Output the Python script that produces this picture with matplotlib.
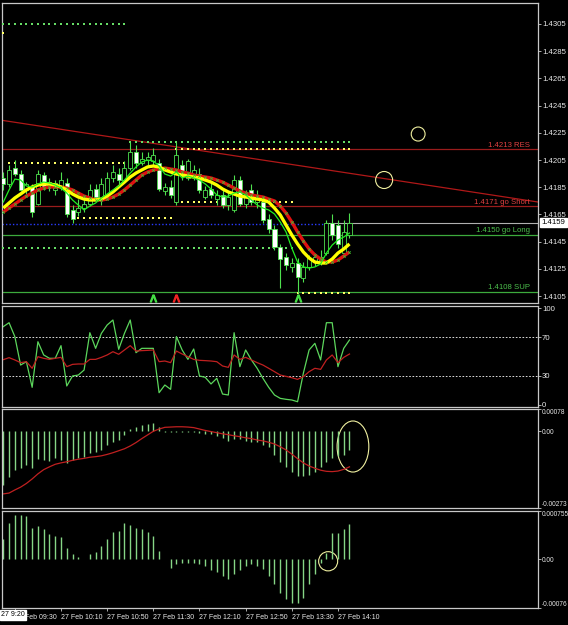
import matplotlib
matplotlib.use('Agg')
import matplotlib.pyplot as plt
from matplotlib.patches import Ellipse
import numpy as np

# 5 minute bars, 27 Feb 09:20 .. 14:20
opens = [1.4192, 1.4187, 1.4199, 1.4195, 1.4183, 1.4185, 1.4173, 1.4194, 1.4185, 1.4183,
         1.4186, 1.4188, 1.4168, 1.4167, 1.4170, 1.4173, 1.4184, 1.4176, 1.4179, 1.4192,
         1.4195, 1.4190, 1.4199, 1.4211, 1.4203, 1.4205, 1.4204, 1.4203, 1.4182, 1.4185,
         1.4174, 1.4201, 1.4192, 1.4194, 1.4195, 1.4178, 1.4184, 1.4176, 1.4179, 1.4172,
         1.4168, 1.4190, 1.4173, 1.4183, 1.4174, 1.4174, 1.4162, 1.4154, 1.4141, 1.4134,
         1.4126, 1.4129, 1.4118, 1.4126, 1.4130, 1.4130, 1.4137, 1.4159, 1.4157, 1.4137,
         1.4150]
highs = [1.4196, 1.4201, 1.4205, 1.4198, 1.4189, 1.4187, 1.4198, 1.4196, 1.4192, 1.4190,
         1.4196, 1.4192, 1.4172, 1.4176, 1.4177, 1.4187, 1.4187, 1.4192, 1.4196, 1.4201,
         1.4199, 1.4204, 1.4218, 1.4216, 1.4211, 1.4211, 1.4214, 1.4206, 1.4188, 1.4190,
         1.4218, 1.4205, 1.4206, 1.4201, 1.4199, 1.4186, 1.4189, 1.4183, 1.4184, 1.4182,
         1.4194, 1.4193, 1.4183, 1.4187, 1.4183, 1.4177, 1.4165, 1.4157, 1.4143, 1.4137,
         1.4133, 1.4133, 1.4130, 1.4135, 1.4137, 1.4139, 1.4161, 1.4165, 1.4161, 1.4161,
         1.4166]
lows = [1.4183, 1.4185, 1.4193, 1.4182, 1.4179, 1.4163, 1.4172, 1.4183, 1.4182, 1.4179,
        1.4183, 1.4163, 1.4159, 1.4164, 1.4167, 1.4171, 1.4176, 1.4172, 1.4177, 1.4189,
        1.4187, 1.4188, 1.4198, 1.4199, 1.4201, 1.4201, 1.4201, 1.4182, 1.4179, 1.4177,
        1.4172, 1.4190, 1.4190, 1.4190, 1.4181, 1.4176, 1.4177, 1.4172, 1.4170, 1.4168,
        1.4167, 1.4171, 1.4170, 1.4172, 1.4170, 1.4159, 1.4151, 1.4139, 1.4111, 1.4124,
        1.4123, 1.4107, 1.4115, 1.4124, 1.4127, 1.4128, 1.4135, 1.4146, 1.4140, 1.4135,
        1.4148]
closes = [1.4187, 1.4198, 1.4195, 1.4183, 1.4187, 1.4167, 1.4195, 1.4185, 1.4189, 1.4188,
          1.4190, 1.4165, 1.4162, 1.4170, 1.4173, 1.4183, 1.4178, 1.4187, 1.4192, 1.4196,
          1.4190, 1.4199, 1.4211, 1.4203, 1.4206, 1.4207, 1.4209, 1.4184, 1.4185, 1.4179,
          1.4209, 1.4194, 1.4204, 1.4198, 1.4183, 1.4183, 1.4179, 1.4179, 1.4172, 1.4178,
          1.4190, 1.4173, 1.4179, 1.4174, 1.4179, 1.4161, 1.4154, 1.4141, 1.4132, 1.4128,
          1.4129, 1.4119, 1.4126, 1.4133, 1.4134, 1.4134, 1.4159, 1.4150, 1.4143, 1.4152,
          1.4159]

ma_yellow = [1.41697, 1.41734, 1.41771, 1.41800, 1.41830, 1.41852, 1.41866, 1.41874, 1.41874, 1.41866,
             1.41852, 1.41830, 1.41800, 1.41778, 1.41763, 1.41756, 1.41756, 1.41763, 1.41785, 1.41815,
             1.41852, 1.41888, 1.41925, 1.41954, 1.41977, 1.41999, 1.42006, 1.41999, 1.41977, 1.41962,
             1.41947, 1.41940, 1.41932, 1.41925, 1.41918, 1.41903, 1.41888, 1.41866, 1.41837, 1.41815,
             1.41800, 1.41785, 1.41778, 1.41771, 1.41763, 1.41756, 1.41741, 1.41697, 1.41646, 1.41572,
             1.41499, 1.41433, 1.41374, 1.41330, 1.41300, 1.41293, 1.41293, 1.41322, 1.41366, 1.41396,
             1.41433]
ma_red = [1.41668, 1.41697, 1.41727, 1.41756, 1.41785, 1.41807, 1.41830, 1.41844, 1.41852, 1.41852,
          1.41852, 1.41844, 1.41830, 1.41807, 1.41785, 1.41771, 1.41756, 1.41756, 1.41763, 1.41778,
          1.41800, 1.41830, 1.41866, 1.41903, 1.41940, 1.41962, 1.41977, 1.41984, 1.41991, 1.41984,
          1.41977, 1.41962, 1.41954, 1.41940, 1.41932, 1.41925, 1.41918, 1.41903, 1.41888, 1.41866,
          1.41844, 1.41822, 1.41807, 1.41793, 1.41785, 1.41778, 1.41763, 1.41749, 1.41712, 1.41660,
          1.41594, 1.41521, 1.41455, 1.41396, 1.41352, 1.41322, 1.41300, 1.41300, 1.41315, 1.41344,
          1.41374]
ma_green = [1.41741, 1.41830, 1.41910, 1.41903, 1.41859, 1.41852, 1.41874, 1.41888, 1.41881, 1.41866,
            1.41844, 1.41807, 1.41756, 1.41719, 1.41683, 1.41712, 1.41734, 1.41771, 1.41800, 1.41830,
            1.41859, 1.41903, 1.41954, 1.41999, 1.42035, 1.42050, 1.42043, 1.42006, 1.41947, 1.41932,
            1.41962, 1.41918, 1.41932, 1.41918, 1.41903, 1.41874, 1.41837, 1.41793, 1.41778, 1.41785,
            1.41807, 1.41815, 1.41793, 1.41756, 1.41719, 1.41697, 1.41683, 1.41653, 1.41594, 1.41521,
            1.41403, 1.41300, 1.41264, 1.41256, 1.41264, 1.41286, 1.41366, 1.41425, 1.41462, 1.41484,
            1.41513]

rsi = [81.1, 85.2, 70.7, 41.1, 44.6, 17.9, 65.4, 51.6, 48.1, 48.1,
       61.3, 19.3, 29.7, 30.7, 35.9, 74.8, 58.5, 74.1, 82.8, 88.0,
       57.5, 74.1, 88.0, 54.0, 58.5, 58.5, 58.5, 12.3, 20.3, 15.8,
       70.7, 56.8, 47.0, 57.8, 29.7, 28.3, 21.4, 27.3, 10.9, 9.9,
       74.8, 39.4, 56.8, 46.4, 37.7, 27.3, 17.9, 9.9, 6.4, 5.4,
       4.7, 2.9, 32.5, 56.8, 63.7, 46.4, 85.2, 85.2, 39.4, 58.5,
       67.2]
rsi_signal = [46.7, 48.8, 46.4, 43.6, 44.6, 37.7, 49.8, 48.1, 47.0, 48.1,
              49.1, 39.4, 41.8, 42.2, 42.2, 47.0, 47.0, 49.1, 51.6, 55.0,
              52.3, 56.8, 61.3, 55.7, 56.1, 56.4, 56.8, 44.6, 45.3, 43.6,
              55.7, 52.6, 49.8, 47.0, 46.0, 45.7, 45.3, 44.6, 40.1, 38.7,
              51.6, 47.0, 49.1, 46.4, 43.6, 41.1, 37.7, 34.2, 30.7, 29.3,
              27.9, 26.2, 29.0, 34.2, 37.7, 36.6, 46.4, 51.6, 43.6, 49.1,
              52.6]

macd_hist = [-0.00191, -0.00164, -0.00138, -0.00132, -0.00121, -0.00132, -0.00100, -0.00103, -0.00105, -0.00097,
             -0.00103, -0.00115, -0.00103, -0.00097, -0.00091, -0.00079, -0.00073, -0.00067, -0.00050, -0.00038,
             -0.00032, -0.00014, 0.00006, 0.00013, 0.00021, 0.00025, 0.00027, 0.00015, -0.00004, -0.00005,
             -0.00005, -0.00004, -0.00003, -0.00002, -0.00008, -0.00010, -0.00012, -0.00018, -0.00026, -0.00034,
             -0.00030, -0.00030, -0.00034, -0.00038, -0.00038, -0.00050, -0.00056, -0.00085, -0.00109, -0.00127,
             -0.00144, -0.00160, -0.00160, -0.00156, -0.00144, -0.00127, -0.00109, -0.00097, -0.00089, -0.00085,
             -0.00067]
macd_signal = [-0.00223, -0.00220, -0.00209, -0.00199, -0.00186, -0.00170, -0.00152, -0.00137, -0.00127, -0.00118,
               -0.00113, -0.00109, -0.00104, -0.00100, -0.00097, -0.00093, -0.00091, -0.00088, -0.00083, -0.00077,
               -0.00070, -0.00063, -0.00053, -0.00041, -0.00027, -0.00014, -0.00001, 0.00007, 0.00013, 0.00014,
               0.00015, 0.00015, 0.00014, 0.00012, 0.00007, 0.00002, -0.00002, -0.00006, -0.00010, -0.00013,
               -0.00017, -0.00020, -0.00024, -0.00027, -0.00032, -0.00035, -0.00040, -0.00046, -0.00056, -0.00067,
               -0.00082, -0.00098, -0.00113, -0.00124, -0.00132, -0.00139, -0.00143, -0.00144, -0.00142, -0.00136,
               -0.00127]

osma = [0.00032, 0.00056, 0.00070, 0.00069, 0.00067, 0.00049, 0.00052, 0.00047, 0.00040, 0.00036,
        0.00035, 0.00018, 0.00009, 0.00004, 0.00001, 0.00008, 0.00012, 0.00021, 0.00032, 0.00043,
        0.00044, 0.00057, 0.00053, 0.00049, 0.00048, 0.00043, 0.00036, 0.00013, 0.00000, -0.00013,
        -0.00008, -0.00006, -0.00006, -0.00005, -0.00008, -0.00010, -0.00016, -0.00020, -0.00026, -0.00031,
        -0.00023, -0.00016, -0.00010, -0.00008, -0.00010, -0.00015, -0.00026, -0.00039, -0.00052, -0.00062,
        -0.00068, -0.00068, -0.00060, -0.00039, -0.00023, -0.00005, 0.00010, 0.00041, 0.00041, 0.00048,
        0.00055]

# support / resistance levels
level_prices = [1.4213, 1.4171, 1.4150, 1.4108]
level_labels = ['1.4213 RES', '1.4171 go Short', '1.4150 go Long', '1.4108 SUP']
level_kinds = ['res', 'res', 'sup', 'sup']

# fractal dotted lines: price, first bar, last bar, colour kind
dot_prices = [1.4305, 1.42983, 1.42028, 1.42182, 1.42131, 1.41741, 1.41624, 1.41403, 1.41072]
dot_first = [0, 0, 1, 22, 30, 30, 13, 0, 51]
dot_last = [21, 0, 21, 60, 60, 50, 29, 50, 60]
dot_kinds = ['g', 'y', 'y', 'g', 'y', 'y', 'y', 'g', 'y']

bid = 1.4159
blue_level = 1.4158
trend_bars = [-0.57, 92.7]
trend_prices = [1.42344, 1.41741]

signal_bars = [26, 30, 51]
signal_kinds = ['buy', 'sell', 'buy']
signal_price = 1.41036

price_ticks = [1.4105, 1.4125, 1.4145, 1.4165, 1.4185, 1.4205, 1.4225, 1.4245, 1.4265, 1.4285, 1.4305]
time_tick_bars = [2, 10, 18, 26, 34, 42, 50, 58]
time_tick_labels = ['27 Feb 09:30', '27 Feb 10:10', '27 Feb 10:50', '27 Feb 11:30',
                    '27 Feb 12:10', '27 Feb 12:50', '27 Feb 13:30', '27 Feb 14:10']

# colours
CANDLE = '#4ee04e'
HIST = '#86d686'
SPINE = '#c8c8c8'
TXT = '#e8e8e8'
MAROON = '#9a1c1c'
LGREEN = '#3caa3c'

plt.rcParams['font.family'] = ['Liberation Sans', 'DejaVu Sans']
FS = 5.6
FS_SMALL = 4.7

W, H = 568, 625
fig = plt.figure(figsize=(W / 100, H / 100), dpi=100, facecolor='black')
XMIN, XMAX = -0.225, 92.67


def panel(top, bottom, fs=FS):
    ax = fig.add_axes([2 / W, 1 - bottom / H, 536 / W, (bottom - top) / H], facecolor='black')
    ax.set_xlim(XMIN, XMAX)
    for sp in ax.spines.values():
        sp.set_color(SPINE)
        sp.set_linewidth(0.9)
    ax.yaxis.tick_right()
    ax.tick_params(axis='y', colors=SPINE, labelcolor=TXT, labelsize=fs, length=2, width=0.6, pad=0.8)
    ax.tick_params(axis='x', bottom=False, labelbottom=False)
    return ax


bars = np.arange(len(closes))

# ---------------- main price panel ----------------
ax = panel(3, 303)
ax.set_ylim(1.40999, 1.43204)
ax.set_yticks(price_ticks)
ax.set_yticklabels(['%.4f' % t for t in price_ticks])

for p, lbl, kind in zip(level_prices, level_labels, level_kinds):
    c = MAROON if kind == 'res' else LGREEN
    tc = '#e04040' if kind == 'res' else '#4cc04c'
    ax.axhline(p, color=c, lw=0.9, zorder=1)
    ax.text(91.3, p + 0.00004, lbl, color=tc, fontsize=FS, ha='right', va='bottom', zorder=6)

ax.plot(trend_bars, trend_prices, color='#b01818', lw=0.9, zorder=2)

for p, b0, b1, k in zip(dot_prices, dot_first, dot_last, dot_kinds):
    xs = np.arange(b0, b1 + 1)
    ax.plot(xs, [p] * len(xs), ls='none', marker='s', ms=1.6,
            color='#ffff66' if k == 'y' else '#66dd66', mew=0, zorder=3)

ax.plot([XMIN, 56], [blue_level, blue_level], color='#2a3cff', lw=1.0, ls=(0, (1, 1.5)), zorder=2)
ax.plot([56, XMAX], [bid, bid], color='#b0b0b0', lw=0.8, zorder=2)

# candles
body_lo = [min(o, c) for o, c in zip(opens, closes)]
body_h = [max(abs(c - o), 0.00002) for o, c in zip(opens, closes)]
faces = ['white' if c < o else 'black' for o, c in zip(opens, closes)]
ax.vlines(bars, lows, highs, color=CANDLE, lw=0.8, zorder=4)
ax.bar(bars, body_h, bottom=body_lo, width=0.7, color=faces, edgecolor=CANDLE, linewidth=0.6, zorder=5)

ax.plot(bars, ma_red, color='#e01010', lw=2.4, zorder=6, solid_capstyle='butt')
ax.plot(bars, ma_yellow, color='#ffff00', lw=2.4, zorder=7, solid_capstyle='butt')
ax.plot(bars, ma_green, color='#22ee22', lw=0.9, zorder=8)
ax.plot(bars, ma_red, ls='none', marker='x', ms=1.8, mew=0.5, color='#33cc33', zorder=9)

for b, k in zip(signal_bars, signal_kinds):
    ax.plot(b, signal_price, marker=r'$\mathsf{\Lambda}$', ms=5,
            color='#44dd44' if k == 'buy' else '#ee2222', zorder=9)

ax.add_patch(Ellipse((71.9, 1.42241), 2.4, 0.00103, fill=False, ec='#f0f0a0', lw=0.8, zorder=9))
ax.add_patch(Ellipse((66.0, 1.41903), 2.95, 0.00125, fill=False, ec='#f0f0a0', lw=0.8, zorder=9))

ax.annotate('%.4f' % bid, xy=(1, bid), xycoords=('axes fraction', 'data'),
            xytext=(2.5, 0), textcoords='offset points', fontsize=FS, color='black',
            ha='left', va='center', annotation_clip=False,
            bbox=dict(boxstyle='square,pad=0.15', fc='white', ec='white'))

# ---------------- RSI ----------------
ax = panel(306, 407)
ax.set_ylim(-2.6, 102.6)
ax.set_yticks([100, 70, 30, 0])
ax.set_yticklabels(['100', '70', '30', '0'])
for lvl in (70, 30):
    ax.axhline(lvl, color='white', lw=0.6, ls=(0, (2, 2)))
ax.plot(np.concatenate(([-0.6], bars)), [rsi[0] - 2] + rsi, color='#5cd65c', lw=0.9)
ax.plot(np.concatenate(([-0.6], bars)), [rsi_signal[0]] + rsi_signal, color='#c02020', lw=0.9)

# ---------------- MACD ----------------
ax = panel(409, 508, FS_SMALL)
ax.set_ylim(-0.00273, 0.00078)
ax.set_yticks([0.00078, 0.0, -0.00273])
ax.set_yticklabels(['0.00078', '0.00', '-0.00273'])
lbls = ax.get_yticklabels()
lbls[0].set_va('top')
lbls[2].set_va('bottom')
ax.vlines(bars, 0, macd_hist, color=HIST, lw=1.0)
ax.plot(np.concatenate(([-0.6], bars)), [macd_signal[0]] + macd_signal, color='#c02020', lw=0.9)
ax.add_patch(Ellipse((60.6, -0.00055), 5.5, 0.00181, fill=False, ec='#f0f0a0', lw=0.8))

# ---------------- OsMA ----------------
ax = panel(511, 608, FS_SMALL)
ax.set_ylim(-0.00076, 0.000755)
ax.set_yticks([0.000755, 0.0, -0.00076])
ax.set_yticklabels(['0.000755', '0.00', '-0.00076'])
lbls = ax.get_yticklabels()
lbls[0].set_va('top')
lbls[2].set_va('bottom')
ax.vlines(bars, 0, osma, color=HIST, lw=1.0)
ax.add_patch(Ellipse((56.3, -0.00003), 3.3, 0.0003, fill=False, ec='#f0f0a0', lw=0.8))

ax.tick_params(axis='x', bottom=True, labelbottom=True, colors=SPINE, labelcolor=TXT,
               labelsize=5.0, length=2.5, width=0.6, pad=1.5)
ax.set_xticks(time_tick_bars)
ax.set_xticklabels(time_tick_labels)
for t in ax.get_xticklabels():
    t.set_ha('left')

fig.text(1 / W, 1 - 615 / H, '27 9:20', fontsize=5.0, color='black', ha='left', va='center',
         bbox=dict(boxstyle='square,pad=0.15', fc='white', ec='white'))

fig.savefig('out.png', dpi=100, facecolor='black')
